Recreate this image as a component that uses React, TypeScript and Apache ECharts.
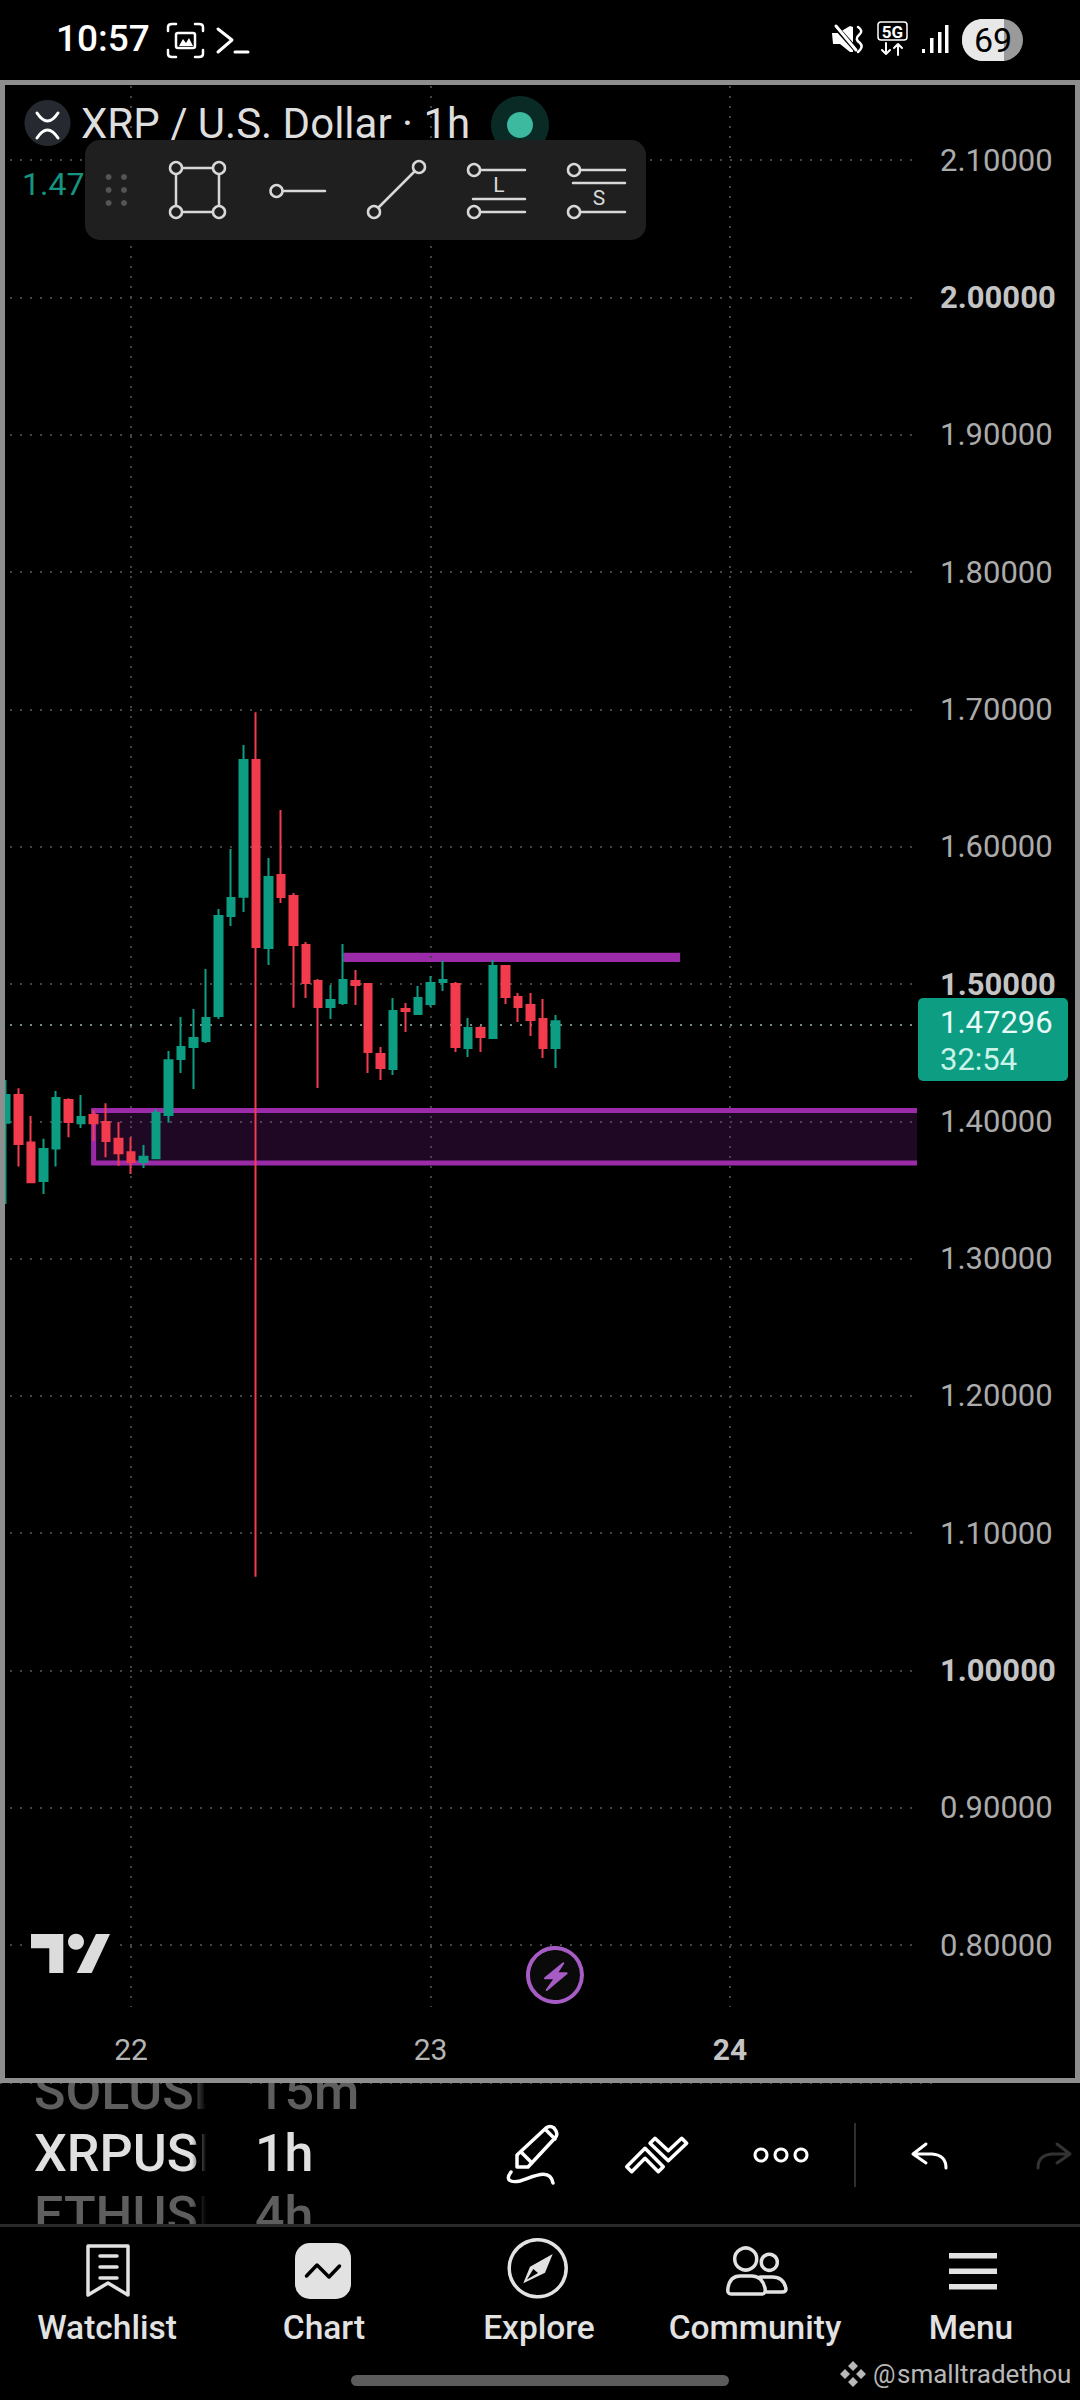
import React, { useEffect, useRef } from "react";
import * as echarts from "echarts";

// [open, close, low, high]
const candles: number[][] = [
  [1.399, 1.4192, 1.3398, 1.4301],
  [1.4192, 1.3835, 1.367, 1.4241],
  [1.3845, 1.3556, 1.3556, 1.4039],
  [1.3566, 1.3799, 1.3471, 1.3872],
  [1.3801, 1.417, 1.367, 1.4221],
  [1.4156, 1.3995, 1.3884, 1.4168],
  [1.3986, 1.4032, 1.3952, 1.4192],
  [1.4046, 1.3986, 1.3859, 1.4083],
  [1.3995, 1.3857, 1.3738, 1.4131],
  [1.3872, 1.3767, 1.3677, 1.3995],
  [1.3775, 1.3704, 1.3617, 1.3884],
  [1.3704, 1.3741, 1.366, 1.3828],
  [1.3731, 1.4063, 1.3731, 1.4088],
  [1.4046, 1.4445, 1.399, 1.4512],
  [1.4454, 1.4541, 1.4352, 1.476],
  [1.4541, 1.4607, 1.4236, 1.4818],
  [1.4585, 1.4752, 1.457, 1.5109],
  [1.4767, 1.5495, 1.4745, 1.5546],
  [1.5495, 1.5626, 1.5422, 1.5983],
  [1.5636, 1.6631, 1.5524, 1.674],
  [1.6631, 1.5269, 1.0683, 1.698],
  [1.5262, 1.5779, 1.5138, 1.5917],
  [1.5794, 1.5633, 1.559, 1.6267],
  [1.5641, 1.5284, 1.4827, 1.5662],
  [1.5284, 1.5007, 1.4898, 1.5306],
  [1.5022, 1.4833, 1.4243, 1.5036],
  [1.4833, 1.4884, 1.4745, 1.4993],
  [1.4862, 1.5029, 1.4847, 1.5291],
  [1.5022, 1.4993, 1.4847, 1.5102],
  [1.5, 1.4505, 1.4352, 1.5007],
  [1.449, 1.4388, 1.4301, 1.4541],
  [1.4381, 1.4803, 1.4338, 1.4898],
  [1.4818, 1.4803, 1.4651, 1.4862],
  [1.4782, 1.4898, 1.4782, 1.4985],
  [1.4854, 1.5007, 1.4833, 1.5058],
  [1.5015, 1.5029, 1.4949, 1.5167],
  [1.5, 1.4541, 1.4505, 1.5015],
  [1.4534, 1.468, 1.4469, 1.4752],
  [1.468, 1.4614, 1.4505, 1.4694],
  [1.4607, 1.5131, 1.4607, 1.5175],
  [1.5131, 1.4905, 1.4854, 1.5138],
  [1.4905, 1.4833, 1.4723, 1.4934],
  [1.4847, 1.4738, 1.4621, 1.4934],
  [1.4745, 1.4534, 1.4461, 1.4891],
  [1.4534, 1.47296, 1.4388, 1.4774],
];
const categories: string[] = Array.from({ length: 75 }, (_, i) => {
  const day = 21 + Math.floor((i + 14) / 24);
  const hour = (i + 14) % 24;
  return `${day} ${String(hour).padStart(2, "0")}:00`;
});
const dayStartIndexes = [10, 34, 58];
const boldPrices = ["1.00000", "1.50000", "2.00000"];
const hiddenPrices = ["0.70000", "2.20000"];
const lastPrice = 1.47296;
const supportZone = { from: 7, to: 74, top: 1.4079, bottom: 1.3696 };
const resistanceZone = { from: 27, to: 54.2, top: 1.5228, bottom: 1.516 };

const UP = "#0c9d83";
const DOWN = "#f23b4d";
const Z = 100;
let shapeCount = 0;

const T = (text: string, x: number, y: number, size: number, fill: string, o: any = {}) => ({
  type: "text", x, y, z: Z, silent: true,
  style: { text, fill, fontSize: size, fontFamily: "Roboto", fontWeight: o.w || 400, align: o.a || "left", verticalAlign: "middle" },
});
const R = (x: number, y: number, width: number, height: number, fill: any, r = 0) => ({
  type: "rect", z: Z, silent: true, shape: { x, y, width, height, r }, style: { fill },
});
const C = (cx: number, cy: number, r: number, fill: string, stroke?: string, lineWidth = 0) => ({
  type: "circle", z: Z, silent: true, shape: { cx, cy, r }, style: { fill, stroke, lineWidth },
});
const P = (d: string, style: any) => {
  const name = `icon${shapeCount++}`;
  echarts.graphic.registerShape(name, echarts.graphic.extendPath(d, {}) as any);
  return { type: name, x: 0, y: 0, z: Z, silent: true, style: { fill: "none", lineJoin: "round", lineCap: "round", ...style } };
};
const S = (d: string, stroke = "#dcdcdc", lineWidth = 3) => P(d, { stroke, lineWidth });
const F = (d: string, fill = "#dcdcdc") => P(d, { fill });
const ring = (cx: number, cy: number, r = 6) => C(cx, cy, r, "#1f1f1f", "#d8d8d8", 2.5);

const NAV = "#e2e2e2";

function buildGraphics(): any[] {
  return [
    // plot strip & frame masks
    R(917, 85, 23, 1995, "#000"),
    // lower strip texts (cut off by neighbours)
    T("SOLUSD", 34, 2091, 52, "#5e5e5e", { w: 500 }),
    T("15m", 255, 2091, 52, "#5e5e5e", { w: 500 }),
    T("XRPUSD", 34, 2153, 52, "#e0e0e0", { w: 500 }),
    T("1h", 255, 2153, 52, "#e0e0e0", { w: 500 }),
    T("ETHUSD", 34, 2215, 52, "#5e5e5e", { w: 500 }),
    T("4h", 255, 2215, 52, "#5e5e5e", { w: 500 }),
    R(192, 2062, 50, 170, new echarts.graphic.LinearGradient(0, 0, 1, 0, [
      { offset: 0, color: "rgba(0,0,0,0)" }, { offset: 0.28, color: "#000" }, { offset: 1, color: "#000" },
    ])),
    R(5, 2062, 1070, 16, "#000"),
    R(0, 2224, 1080, 176, "#000"),
    R(0, 2224, 1080, 3, "#2a2a2a"),
    R(0, 0, 1080, 80, "#000"),
    R(0, 80, 1080, 5, "#8e8e8e"),
    R(0, 80, 5, 2003, "#8e8e8e"),
    R(1075, 80, 5, 2003, "#8e8e8e"),
    R(0, 2078, 1080, 5, "#8e8e8e"),

    // status bar
    T("10:57", 56, 38, 37, "#fff", { w: 500 }),
    S("M168 31 L168 27 Q168 24 172 24 L176 24 M195 24 L199 24 Q203 24 203 27 L203 31 M203 50 L203 54 Q203 57 199 57 L195 57 M176 57 L172 57 Q168 57 168 54 L168 50", "#fff", 2.5),
    S("M178 33 L193 33 Q195 33 195 35 L195 46 Q195 48 193 48 L178 48 Q176 48 176 46 L176 35 Q176 33 178 33 Z", "#fff", 2.5),
    F("M179 46 L183 39 L186 43 L189 38 L193 46 Z", "#fff"),
    S("M218 29 L232 40 L218 52 M235 52 L248 52", "#fff", 3),
    F("M832 33 L838 33 L850 26 L853 27 L853 52 L850 52 L840 44 L833 44 Z", "#fff"),
    S("M834 25 L858 52", "#000", 5),
    S("M836 26 L856 50", "#fff", 3),
    S("M858 27 Q864 31 859 35 Q854 39 860 43 Q864 47 858 52", "#fff", 2.5),
    { type: "rect", z: Z, silent: true, shape: { x: 878, y: 22, width: 29, height: 18, r: 3 }, style: { fill: "none", stroke: "#fff", lineWidth: 1.5 } },
    T("5G", 892.5, 31.5, 17, "#fff", { a: "center", w: 700 }),
    S("M886 43 L886 54 M882 50 L886 54 L890 50 M898 55 L898 44 M894 48 L898 44 L902 48", "#fff", 2),
    R(922, 49, 3, 4, "#fff"),
    R(930, 38, 3.5, 15, "#fff"),
    R(938, 32, 3.5, 21, "#fff"),
    R(945, 25, 3.5, 28, "#fff"),
    R(962, 19, 61, 42, "#9a9a9a", 21),
    F("M1004 19 L983 19 C971 19 962 28 962 40 C962 52 971 61 983 61 L1004 61 Z", "#e8e8e8"),
    T("69", 993, 40, 34, "#000", { a: "center" }),

    // legend header
    C(47.5, 123, 23, "#262a30"),
    S("M37 113 Q47.5 129 58 113 M37 138 Q47.5 122 58 138", "#fff", 3),
    T("XRP / U.S. Dollar · 1h", 81, 123, 42, "#dedede"),
    C(520, 125, 29, "#0a2a25"),
    C(520, 125, 13, "#3db9a0"),
    T("1.47", 22, 184, 32, "#159580"),

    // drawing toolbar
    R(85, 140, 561, 100, "#1f1f1f", 15),
    ...[108.6, 124].flatMap((x) => [177, 190, 203].map((y) => C(x, y, 3, "#555"))),
    S("M176 168 L219 168 L219 212 L176 212 Z", "#d8d8d8", 2.5),
    ring(176, 168), ring(219, 168), ring(176, 212), ring(219, 212),
    S("M282 191 L325 191", "#d8d8d8", 2.5),
    ring(276.5, 191),
    S("M374 212 L419 167", "#d8d8d8", 2.5),
    ring(374, 212), ring(419, 167),
    S("M480 170 L525 170 M473 199 L525 199 M480 212 L525 212", "#d8d8d8", 2.5),
    ring(474, 170), ring(474, 212),
    T("L", 499, 185, 21, "#d8d8d8", { a: "center" }),
    S("M580 170 L625 170 M573 183 L625 183 M580 212 L625 212", "#d8d8d8", 2.5),
    ring(574, 170), ring(574, 212),
    T("S", 599, 198, 21, "#d8d8d8", { a: "center" }),

    // price tag
    R(918, 998, 150, 83, "#0c9d83", 5),
    T("1.47296", 940, 1022, 31, "#e8fbf6"),
    T("32:54", 940, 1059, 31, "#c9f3e8"),

    // TradingView logo
    R(27, 1928, 88, 50, "#000"),
    F("M31 1934 L63.3 1934 L63.3 1973 L49.3 1973 L49.3 1948.3 L31 1948.3 Z", "#dcdcdc"),
    C(76, 1941.7, 8, "#dcdcdc"),
    F("M96 1934 L110 1934 L91.7 1973 L76.7 1973 Z", "#dcdcdc"),

    // lightning button
    C(555, 1975, 27, "#0a0a0a", "#a65cc4", 4),
    P("M563.3 1963.3 L545 1978.3 L555 1978.3 L546.7 1990 L566.7 1973.3 L556.7 1973.3 Z", { fill: "#a65cc4", stroke: "#a65cc4", lineWidth: 2 }),

    // drawing tools row
    S("M517 2167 L517 2155 L546 2128 Q550 2125 554 2128 L556 2131 Q558 2135 555 2138 L528 2167 Z M522 2153 L532 2163 M546 2130 L555 2139", "#fff", 3.5),
    S("M511 2172 C505 2180 510 2183 520 2181 C535 2176 550 2168 553 2183", "#fff", 3.5),
    S("M626.7 2166.7 L645 2148.3 L663.3 2166.7 L658.3 2171.7 L645 2158.3 L631.7 2171.7 Z", "#fff", 3.5),
    S("M650 2143.3 L655 2138.3 L668.3 2150.7 L681.7 2138.3 L686.7 2143.3 L668.3 2160.7 Z", "#fff", 3.5),
    C(761, 2155, 6, "#000", "#fff", 3),
    C(781, 2155, 6, "#000", "#fff", 3),
    C(801, 2155, 6, "#000", "#fff", 3),
    R(854, 2123, 2, 64, "#2e2e2e"),
    S("M926 2144 L913 2154 L926 2163 M913 2154 L932 2154 Q946 2155 946 2168", "#fff", 3),
    S("M1057 2144 L1070 2154 L1057 2163 M1070 2154 L1052 2154 Q1038 2155 1038 2168", "#333", 3),

    // bottom navigation
    S("M88 2246 L128 2246 L128 2295 L108 2283 L88 2295 Z M100 2256 L117 2256 M100 2267 L117 2267 M100 2278 L117 2278", NAV, 3.5),
    R(295, 2243, 56, 56, NAV, 15),
    S("M306.5 2276 L317 2265 L329 2277 L339.5 2266", "#000", 3.5),
    C(537.7, 2268.3, 28.5, "none", NAV, 3.5),
    F("M552.7 2254 L530 2266.7 L523.3 2283.3 L545 2272.7 Z", NAV),
    F("M533.3 2269 L527 2279.5 L538 2273 Z", "#000"),
    C(745.7, 2259, 11, "none", NAV, 3.5),
    C(769.3, 2262.3, 8, "none", NAV, 3.5),
    S("M731 2294 L762 2294 Q766 2294 765 2288 Q762 2276 752 2276 L740 2276 Q730 2276 728 2288 Q727 2294 731 2294 Z", NAV, 3.5),
    S("M760 2277 L772 2277 Q784 2277 786 2289 Q786 2292 782 2292 L767 2292", NAV, 3.5),
    R(949, 2253, 48, 5.5, NAV),
    R(949, 2268.5, 48, 5.5, NAV),
    R(949, 2284, 48, 5.5, NAV),
    T("Watchlist", 107, 2327, 33.5, NAV, { a: "center", w: 500 }),
    T("Chart", 324, 2327, 33.5, NAV, { a: "center", w: 500 }),
    T("Explore", 539, 2327, 33.5, NAV, { a: "center", w: 500 }),
    T("Community", 755, 2327, 33.5, NAV, { a: "center", w: 500 }),
    T("Menu", 971, 2327, 33.5, NAV, { a: "center", w: 500 }),
    R(351, 2375, 378, 11, "#5c5c5c", 5.5),
    F("M853 2361 L858 2366 L853 2371 L848 2366 Z M845 2369 L850 2374 L845 2379 L840 2374 Z M861 2369 L866 2374 L861 2379 L856 2374 Z M853 2377 L858 2382 L853 2387 L848 2382 Z", "#b8b8b8"),
    T("@", 873, 2374, 25, "#b8b8b8"),
    T("smalltradethou", 897, 2374, 26, "#b8b8b8"),
  ];
}

const gridDash = { color: "#454545", width: 2, type: [2, 8] as any };

function buildOption(): any {
  return {
    animation: false,
    backgroundColor: "#000",
    grid: { left: 0, top: 22.9, width: 936, height: 2059.5, containLabel: false },
    xAxis: {
      type: "category",
      data: categories,
      boundaryGap: true,
      axisLine: { show: false },
      axisTick: { show: false },
      splitLine: { show: false },
      axisLabel: {
        inside: true,
        margin: 18,
        fontFamily: "Roboto",
        fontSize: 30,
        color: "#b4b4b4",
        hideOverlap: false,
        interval: (i: number) => dayStartIndexes.includes(i),
        formatter: (v: string) => {
          const day = v.split(" ")[0];
          return day === "24" ? `{b|${day}}` : day;
        },
        rich: { b: { fontFamily: "Roboto", fontSize: 30, fontWeight: 700, color: "#c4c4c4" } },
      },
    },
    yAxis: {
      type: "value",
      position: "right",
      min: 0.7,
      max: 2.2,
      interval: 0.1,
      axisLine: { show: false },
      axisTick: { show: false },
      splitLine: { show: true, lineStyle: gridDash },
      axisLabel: {
        margin: 4,
        align: "left",
        fontFamily: "Roboto",
        fontSize: 31,
        color: "#ababab",
        formatter: (v: number) => {
          const s = v.toFixed(5);
          if (hiddenPrices.includes(s)) return "";
          return boldPrices.includes(s) ? `{b|${s}}` : s;
        },
        rich: { b: { fontFamily: "Roboto", fontSize: 31, fontWeight: 700, color: "#c4c4c4" } },
      },
    },
    graphic: { elements: buildGraphics() },
    series: [
      {
        type: "candlestick",
        data: candles,
        barWidth: 8,
        z: 2,
        itemStyle: { color: UP, color0: DOWN, borderColor: UP, borderColor0: DOWN, borderWidth: 2 },
        markLine: {
          silent: true,
          z: 1,
          symbol: "none",
          label: { show: false },
          emphasis: { disabled: true },
          data: [
            { yAxis: lastPrice, lineStyle: { color: "#6e8f86", width: 2, type: [2, 8] } },
            ...dayStartIndexes.map((i) => [
              { xAxis: i, yAxis: 2.154, lineStyle: gridDash },
              { xAxis: i, yAxis: 0.755 },
            ]),
          ],
        },
        markArea: {
          silent: true,
          z: 1,
          label: { show: false },
          data: [
            [
              {
                xAxis: supportZone.from,
                yAxis: supportZone.top,
                itemStyle: { color: "rgba(156,39,176,0.2)", borderColor: "#9c2ba9", borderWidth: 5 },
              },
              { xAxis: supportZone.to, yAxis: supportZone.bottom },
            ],
            [
              {
                xAxis: resistanceZone.from,
                yAxis: resistanceZone.top,
                itemStyle: { color: "#9c2ba9", borderWidth: 0 },
              },
              { xAxis: resistanceZone.to, yAxis: resistanceZone.bottom },
            ],
          ],
        },
      },
    ],
  };
}

export default function App() {
  const ref = useRef<HTMLDivElement>(null);
  useEffect(() => {
    document.body.style.margin = "0";
    document.body.style.background = "#000";
    const chart = echarts.init(ref.current!, undefined, { renderer: "svg" });
    chart.setOption(buildOption());
    return () => chart.dispose();
  }, []);
  return <div ref={ref} style={{ width: 1080, height: 2400 }} />;
}
